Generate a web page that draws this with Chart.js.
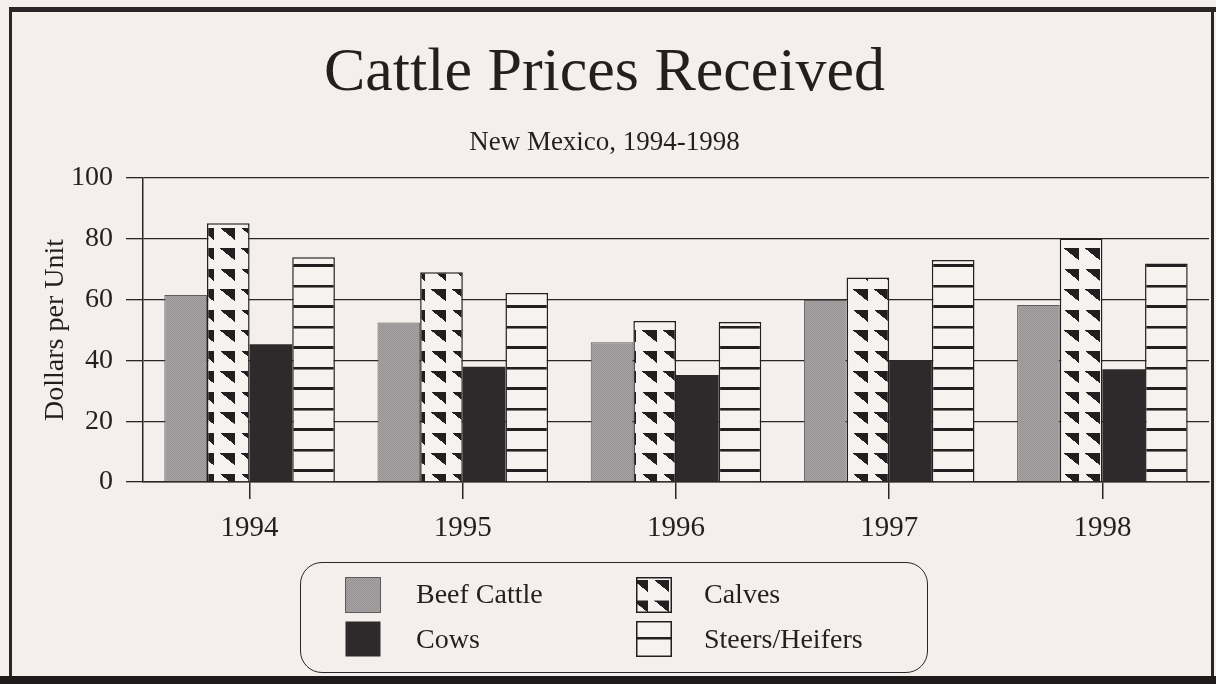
<!DOCTYPE html>
<html><head><meta charset="utf-8">
<script src="https://cdn.jsdelivr.net/npm/chart.js@4.4.1/dist/chart.umd.min.js"></script>
<style>
html,body{margin:0;padding:0;background:#f4efec;}
#wrap{position:relative;width:1216px;height:684px;overflow:hidden;background:#f4efec;}
#c{position:absolute;left:0;top:0;}
#legendBox{position:absolute;left:300px;top:562px;width:628px;height:111px;box-sizing:border-box;border:1.6px solid #2a2526;border-radius:22px;}
.sw{position:absolute;width:36px;height:36px;display:block;}
.lt{position:absolute;height:36px;line-height:36px;font-family:'Liberation Serif','Times New Roman',serif;font-size:28px;color:#231f20;white-space:nowrap;}
</style></head>
<body><div id="wrap"><canvas id="c" width="1216" height="684"></canvas>
<div id="legendBox"></div>
<canvas class="sw" id="sw0" width="36" height="36" style="left:345px;top:577px"></canvas>
<div class="lt" id="lt0" style="left:416px;top:576px"></div>
<canvas class="sw" id="sw2" width="36" height="36" style="left:345px;top:621px"></canvas>
<div class="lt" id="lt2" style="left:416px;top:621px"></div>
<canvas class="sw" id="sw1" width="36" height="36" style="left:636px;top:577px"></canvas>
<div class="lt" id="lt1" style="left:704px;top:576px"></div>
<canvas class="sw" id="sw3" width="36" height="36" style="left:636px;top:621px"></canvas>
<div class="lt" id="lt3" style="left:704px;top:621px"></div>
</div>
<script>
const categories = ['1994', '1995', '1996', '1997', '1998'];
const beefCattle = [61.5, 52.5, 46.0, 59.9, 58.2];
const calves = [85.1, 69.0, 53.0, 67.3, 80.1];
const cows = [45.3, 37.9, 35.2, 40.1, 37.1];
const steersHeifers = [73.9, 62.2, 52.6, 73.0, 71.9];
const yTicks = [0, 20, 40, 60, 80, 100];
const seriesNames = ['Beef Cattle', 'Calves', 'Cows', 'Steers/Heifers'];
const titleText = 'Cattle Prices Received';
const subtitleText = 'New Mexico, 1994-1998';
const yTitle = 'Dollars per Unit';

const INK = '#231f20';
const PAPER = '#f6f2ef';
const FONT = "'Liberation Serif', 'Times New Roman', serif";

function beefPattern(ctx) {
  const pc = document.createElement('canvas'); pc.width = 2; pc.height = 2;
  const p = pc.getContext('2d');
  p.fillStyle = '#a7a3a5'; p.fillRect(0, 0, 2, 2);
  p.fillStyle = '#97939'+'5'; p.fillRect(0, 0, 1, 1); p.fillRect(1, 1, 1, 1);
  return ctx.createPattern(pc, 'repeat');
}
function triPattern(ctx, ox, oy) {
  const pc = document.createElement('canvas'); pc.width = 211; pc.height = 205;
  const p = pc.getContext('2d');
  p.fillStyle = PAPER; p.fillRect(0, 0, 211, 205);
  p.fillStyle = INK;
  p.beginPath(); p.moveTo(0, 0); p.lineTo(152, 0); p.lineTo(152, 122); p.closePath(); p.fill();
  const pat = ctx.createPattern(pc, 'repeat');
  pat.setTransform(new DOMMatrix([0.1, 0, 0, 0.1, ox, oy]));
  return pat;
}
function linePattern(ctx, oy) {
  const pc = document.createElement('canvas'); pc.width = 10; pc.height = 205;
  const p = pc.getContext('2d');
  p.fillStyle = PAPER; p.fillRect(0, 0, 10, 205);
  p.fillStyle = INK; p.fillRect(0, 0, 10, 26);
  const pat = ctx.createPattern(pc, 'repeat');
  pat.setTransform(new DOMMatrix([0.1, 0, 0, 0.1, 0, oy]));
  return pat;
}

const canvas = document.getElementById('c');
const ctx = canvas.getContext('2d');

const framePlugin = {
  id: 'frame',
  beforeDraw(chart) {
    const c = chart.ctx;
    c.save();
    c.fillStyle = '#2a2526';
    c.fillRect(9, 7, 1207, 5);      // top band
    c.fillRect(9, 7, 3, 677);       // left line
    c.fillRect(1211, 7, 3, 677);    // right line
    c.fillStyle = '#1e1a1b';
    c.fillRect(0, 676, 1216, 8);    // bottom band
    c.restore();
  }
};

const chart = new Chart(ctx, {
  type: 'bar',
  data: {
    labels: categories,
    datasets: [
      { label: seriesNames[0], data: beefCattle, backgroundColor: beefPattern(ctx), borderColor: '#5f5b5c', borderWidth: 1 },
      { label: seriesNames[1], data: calves, backgroundColor: triPattern(ctx, 9.0, 2.45), borderColor: INK, borderWidth: 1.5 },
      { label: seriesNames[2], data: cows, backgroundColor: '#2e2a2b', borderWidth: 0 },
      { label: seriesNames[3], data: steersHeifers, backgroundColor: linePattern(ctx, 18.4), borderColor: INK, borderWidth: 1.5 }
    ]
  },
  options: {
    responsive: false,
    animation: false,
    datasets: { bar: { categoryPercentage: 0.8, barPercentage: 1.0, borderSkipped: 'bottom' } },
    layout: { padding: { left: 0, right: 7, top: 0, bottom: 142 } },
    plugins: {
      legend: { display: false },
      tooltip: { enabled: false },
      title: { display: true, text: titleText, color: INK,
        font: { family: FONT, size: 62, weight: 'normal', lineHeight: 1.2 },
        padding: { top: 37, bottom: 15.4 } },
      subtitle: { display: true, text: subtitleText, color: INK,
        font: { family: FONT, size: 27, weight: 'normal', lineHeight: 1.2 },
        padding: { top: 0, bottom: 18.8 } }
    },
    scales: {
      x: {
        type: 'category',
        offset: true,
        grid: { display: true, drawOnChartArea: false, drawTicks: true, tickLength: 17, offset: false, color: '#2a2526', lineWidth: 1.5 },
        border: { display: true, color: '#2a2526', width: 1.5 },
        ticks: { color: INK, font: { family: FONT, size: 29 }, padding: 12, maxRotation: 0 },
        afterFit(s) { s.height = 60; }
      },
      y: {
        min: 0, max: 100,
        afterBuildTicks(s) { s.ticks = yTicks.map(v => ({ value: v })); },
        ticks: { color: INK, font: { family: FONT, size: 28 }, padding: 13 },
        grid: { color: '#2a2526', lineWidth: 1.3, tickLength: 17, drawTicks: true },
        border: { display: true, color: '#2a2526', width: 1.5 },
        title: { display: true, text: yTitle, color: INK, font: { family: FONT, size: 28 }, padding: { top: 38.7, bottom: 0 } },
        afterFit(s) { s.width = 143; }
      }
    }
  },
  plugins: [framePlugin]
});

// HTML legend (2 x 2), swatches styled like the bars
function drawSwatch(id, kind) {
  const cv = document.getElementById(id);
  const c = cv.getContext('2d');
  const w = 35, h = 35;
  c.clearRect(0, 0, 36, 36);
  if (kind === 0) { c.fillStyle = beefPattern(c); c.fillRect(0.5, 0.5, w, h); c.strokeStyle = '#5f5b5c'; c.lineWidth = 1; c.strokeRect(0.5, 0.5, w, h); }
  if (kind === 1) { c.fillStyle = triPattern(c, -3, 3); c.fillRect(0.5, 0.5, w, h); c.strokeStyle = INK; c.lineWidth = 1.5; c.strokeRect(0.75, 0.75, w - 0.5, h - 0.5); }
  if (kind === 2) { c.fillStyle = '#2e2a2b'; c.fillRect(0.5, 0.5, w, h); }
  if (kind === 3) { c.fillStyle = PAPER; c.fillRect(0.5, 0.5, w, h); c.fillStyle = INK; c.fillRect(0.5, 16, w, 2.5); c.strokeStyle = INK; c.lineWidth = 1.5; c.strokeRect(0.75, 0.75, w - 0.5, h - 0.5); }
}
for (let i = 0; i < 4; i++) {
  drawSwatch('sw' + i, i);
  document.getElementById('lt' + i).textContent = seriesNames[i];
}
</script>
</body></html>
